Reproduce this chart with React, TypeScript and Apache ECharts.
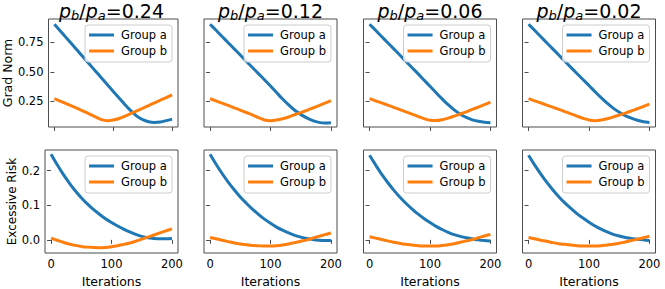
import React, { useEffect, useRef } from "react";
import * as echarts from "echarts";

const iterations = [0, 10, 20, 30, 40, 50, 60, 70, 80, 90, 100, 110, 120, 130, 140, 150, 160, 170, 180, 190, 200];
const ratios = ["0.24", "0.12", "0.06", "0.02"];
const groups = ["Group a", "Group b"];
const rowLabels = ["Grad Norm", "Excessive Risk"];
const xTicks = [0, 100, 200];
const gradTicks = [0.25, 0.5, 0.75];
const riskTicks = [0, 0.1, 0.2];

const gradA_024 = [0.905, 0.848, 0.791, 0.734, 0.677, 0.62, 0.563, 0.506, 0.449, 0.392, 0.335, 0.278, 0.222, 0.17, 0.125, 0.095, 0.078, 0.072, 0.076, 0.087, 0.1];
const gradA_012 = [0.905, 0.853, 0.8, 0.748, 0.696, 0.644, 0.59, 0.538, 0.486, 0.434, 0.38, 0.325, 0.27, 0.22, 0.175, 0.14, 0.11, 0.087, 0.072, 0.067, 0.07];
const gradA_006 = [0.905, 0.853, 0.8, 0.748, 0.696, 0.644, 0.59, 0.538, 0.486, 0.432, 0.378, 0.324, 0.272, 0.222, 0.178, 0.142, 0.114, 0.094, 0.081, 0.073, 0.07];
const gradA_002 = [0.905, 0.853, 0.8, 0.748, 0.696, 0.644, 0.591, 0.539, 0.487, 0.436, 0.385, 0.332, 0.282, 0.235, 0.193, 0.158, 0.13, 0.108, 0.09, 0.078, 0.072];
const gradB_024 = [0.273, 0.252, 0.231, 0.21, 0.188, 0.166, 0.143, 0.118, 0.096, 0.087, 0.092, 0.105, 0.125, 0.148, 0.17, 0.192, 0.215, 0.238, 0.26, 0.283, 0.306];
const gradB_012 = [0.273, 0.254, 0.235, 0.216, 0.196, 0.176, 0.156, 0.135, 0.113, 0.093, 0.087, 0.092, 0.103, 0.118, 0.137, 0.155, 0.174, 0.194, 0.214, 0.235, 0.256];
const gradB_006 = [0.273, 0.255, 0.237, 0.219, 0.2, 0.181, 0.162, 0.143, 0.123, 0.104, 0.09, 0.088, 0.095, 0.108, 0.125, 0.143, 0.162, 0.182, 0.202, 0.223, 0.244];
const gradB_002 = [0.273, 0.255, 0.237, 0.219, 0.201, 0.183, 0.164, 0.145, 0.126, 0.107, 0.092, 0.087, 0.092, 0.103, 0.118, 0.134, 0.151, 0.169, 0.188, 0.207, 0.227];
const riskA_024 = [0.248, 0.218, 0.19, 0.165, 0.142, 0.122, 0.104, 0.088, 0.074, 0.061, 0.05, 0.04, 0.031, 0.023, 0.016, 0.01, 0.006, 0.004, 0.003, 0.003, 0.004];
const riskA_012 = [0.248, 0.219, 0.192, 0.167, 0.145, 0.124, 0.106, 0.089, 0.074, 0.06, 0.048, 0.037, 0.028, 0.02, 0.013, 0.008, 0.004, 0.001, -0.001, -0.002, -0.002];
const riskA_006 = [0.245, 0.217, 0.19, 0.166, 0.144, 0.124, 0.106, 0.09, 0.075, 0.062, 0.05, 0.039, 0.03, 0.022, 0.015, 0.01, 0.006, 0.003, 0.0, -0.002, -0.003];
const riskA_002 = [0.245, 0.217, 0.191, 0.167, 0.145, 0.125, 0.107, 0.091, 0.076, 0.063, 0.051, 0.04, 0.031, 0.023, 0.016, 0.011, 0.007, 0.004, 0.002, 0.0, -0.002];
const riskB_024 = [0.005, -0.001, -0.007, -0.012, -0.016, -0.019, -0.021, -0.022, -0.023, -0.022, -0.02, -0.017, -0.013, -0.009, -0.004, 0.002, 0.008, 0.014, 0.02, 0.026, 0.032];
const riskB_012 = [0.007, 0.003, -0.001, -0.005, -0.009, -0.012, -0.014, -0.016, -0.017, -0.018, -0.018, -0.017, -0.015, -0.012, -0.008, -0.004, 0.0, 0.005, 0.01, 0.015, 0.02];
const riskB_006 = [0.009, 0.005, 0.001, -0.003, -0.007, -0.01, -0.013, -0.015, -0.017, -0.018, -0.018, -0.018, -0.016, -0.014, -0.011, -0.007, -0.003, 0.001, 0.006, 0.011, 0.016];
const riskB_002 = [0.007, 0.003, -0.001, -0.004, -0.008, -0.011, -0.013, -0.015, -0.017, -0.018, -0.018, -0.018, -0.017, -0.015, -0.013, -0.01, -0.006, -0.002, 0.002, 0.006, 0.011];

const gradA = [gradA_024, gradA_012, gradA_006, gradA_002];
const gradB = [gradB_024, gradB_012, gradB_006, gradB_002];
const riskA = [riskA_024, riskA_012, riskA_006, riskA_002];
const riskB = [riskB_024, riskB_012, riskB_006, riskB_002];

const FONT = "'DejaVu Sans', sans-serif";
const COLORS = ["#1f77b4", "#ff7f0e"];
const FRAME = "#4d4d4d";

const W = 665;
const colLeft = [45, 204, 363.5, 522.5];
const panelW = 133;
const rowTop = [19, 150];
const panelH = 108;

function buildOption() {
  const grid: any[] = [];
  const xAxis: any[] = [];
  const yAxis: any[] = [];
  const series: any[] = [];
  const legend: any[] = [];
  const title: any[] = [];

  for (let r = 0; r < 2; r++) {
    for (let c = 0; c < 4; c++) {
      const idx = r * 4 + c;
      grid.push({
        left: colLeft[c], top: rowTop[r], width: panelW, height: panelH,
        show: true, borderColor: FRAME, borderWidth: 1, backgroundColor: "transparent",
      });
      xAxis.push({
        type: "value", gridIndex: idx, min: -10, max: 210,
        axisLine: { show: false }, splitLine: { show: false },
        axisTick: { show: true, length: 4, inside: false, customValues: xTicks, lineStyle: { color: FRAME, width: 1 } },
        axisLabel: { show: r === 1, customValues: xTicks, fontSize: 11.5, fontFamily: FONT, color: "#000", margin: 5 },
        name: r === 1 ? "Iterations" : "", nameLocation: "middle", nameGap: 22,
        nameTextStyle: { fontSize: 12.5, fontFamily: FONT, color: "#000" },
      });
      const ticks = r === 0 ? gradTicks : riskTicks;
      yAxis.push({
        type: "value", gridIndex: idx,
        min: r === 0 ? 0.033 : -0.038, max: r === 0 ? 0.949 : 0.26,
        axisLine: { show: false }, splitLine: { show: false },
        axisTick: { show: true, length: 4, inside: false, customValues: ticks, lineStyle: { color: FRAME, width: 1 } },
        axisLabel: {
          show: c === 0, customValues: ticks, fontSize: 11.5, fontFamily: FONT, color: "#000", margin: 5,
          formatter: (v: number) => (r === 0 ? v.toFixed(2) : v.toFixed(1)),
        },
        name: c === 0 ? rowLabels[r] : "", nameLocation: "middle", nameRotate: 90,
        nameGap: r === 0 ? 29 : 20,
        nameTextStyle: { fontSize: r === 0 ? 12.5 : 12, fontFamily: FONT, color: "#000" },
      });
      const aVals = r === 0 ? gradA[c] : riskA[c];
      const bVals = r === 0 ? gradB[c] : riskB[c];
      [aVals, bVals].forEach((vals, g) => {
        series.push({
          type: "line", name: groups[g], xAxisIndex: idx, yAxisIndex: idx,
          data: iterations.map((x, i) => [x, vals[i]]),
          showSymbol: false, smooth: 0.3,
          lineStyle: { width: 3, color: COLORS[g] }, itemStyle: { color: COLORS[g] }, z: 2 + g,
        });
      });
      legend.push({
        orient: "vertical", right: W - (colLeft[c] + panelW - 6), top: rowTop[r] + 6,
        data: groups, icon: "rect", itemWidth: 25, itemHeight: 3, itemGap: 4,
        padding: [4, 5, 5, 4], selectedMode: false,
        borderColor: "#cccccc", borderWidth: 1, borderRadius: 3, backgroundColor: "rgba(255,255,255,0.8)",
        textStyle: { fontSize: 11.5, fontFamily: FONT, color: "#000", padding: [0, 0, 0, 2] },
      });
    }
  }

  for (let c = 0; c < 4; c++) {
    title.push({
      text: `{i|p}{s|b}{n|/}{i|p}{s|a}{n|=${ratios[c]}}`,
      left: colLeft[c] + panelW / 2, top: 0, padding: 0, textAlign: "center",
      textStyle: {
        fontSize: 19, fontFamily: FONT, fontWeight: "normal", color: "#000",
        rich: {
          i: { fontSize: 19, fontStyle: "italic", fontFamily: FONT, color: "#000", lineHeight: 22 },
          n: { fontSize: 19, fontFamily: FONT, color: "#000", lineHeight: 22 },
          s: { fontSize: 13, fontStyle: "italic", fontFamily: FONT, color: "#000", lineHeight: 13, verticalAlign: "bottom" },
        },
      },
    });
  }

  return { animation: false, backgroundColor: "#fff", title, grid, xAxis, yAxis, series, legend };
}

export default function App() {
  const ref = useRef<HTMLDivElement>(null);
  useEffect(() => {
    if (!ref.current) return;
    const chart = echarts.init(ref.current, undefined, { renderer: "svg" });
    chart.setOption(buildOption() as any);
    return () => chart.dispose();
  }, []);
  return <div ref={ref} style={{ position: "absolute", left: 0, top: 0, width: 665, height: 289 }} />;
}
